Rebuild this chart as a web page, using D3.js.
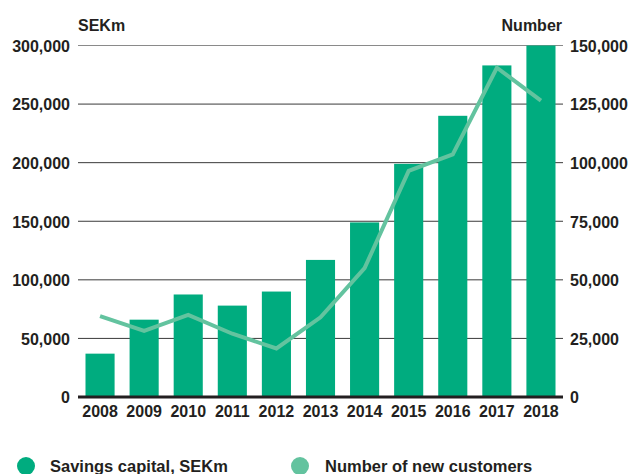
<!DOCTYPE html>
<html><head><meta charset="utf-8">
<script src="https://cdn.jsdelivr.net/npm/d3@7"></script>
<style>body{margin:0;background:#fff}text{font-family:"Liberation Sans",Arial,sans-serif;font-weight:bold;fill:#231f20}</style>
</head><body><svg id="c" width="629" height="474"></svg>
<script>
const years = ["2008","2009","2010","2011","2012","2013","2014","2015","2016","2017","2018"];
const savingsCapital = [37000,66000,87500,78000,90000,117000,149000,199000,240000,283000,300000];
const newCustomers = [34500,28200,35000,27000,20700,34000,55000,96500,103500,140500,126500];
const leftTicks = [0,50000,100000,150000,200000,250000,300000];
const rightTicks = [0,25000,50000,75000,100000,125000,150000];
const legendLabels = ["Savings capital, SEKm","Number of new customers"];

const svg = d3.select("#c");
const x0 = 78, x1 = 563, yTop = 45.5, yBase = 397;
const x = d3.scaleBand().domain(years).range([x0, x1]).paddingInner(0.34).paddingOuter(0.17);
const yL = d3.scaleLinear().domain([0,300000]).range([yBase, yTop]);
const yR = d3.scaleLinear().domain([0,150000]).range([yBase, yTop]);
const fmt = d3.format(",");
const barColor = "#00ac7f", lineColor = "#63c39f";
const fs = 16;

// gridlines
svg.append("g").selectAll("line").data(leftTicks.filter(d=>d>0)).join("line")
  .attr("x1", 78).attr("x2", 563)
  .attr("y1", d=>yL(d)).attr("y2", d=>yL(d))
  .attr("stroke", d=> d===300000 ? "#8a8a8a" : "#3a3a3a").attr("stroke-width", 1);

// left axis labels
const gl = svg.append("g").attr("transform","translate(70,0)")
  .call(d3.axisLeft(yL).tickValues(leftTicks).tickFormat(fmt).tickSize(0).tickPadding(0));
gl.select(".domain").remove();
gl.selectAll("text").attr("font-size",fs).attr("font-family","Liberation Sans").attr("font-weight","bold").attr("fill","#231f20").attr("dy","0.36em");

const gr = svg.append("g").attr("transform","translate(570,0)")
  .call(d3.axisRight(yR).tickValues(rightTicks).tickFormat(fmt).tickSize(0).tickPadding(0));
gr.select(".domain").remove();
gr.selectAll("text").attr("font-size",fs).attr("font-family","Liberation Sans").attr("font-weight","bold").attr("fill","#231f20").attr("dy","0.36em");

// bars
svg.append("g").selectAll("rect").data(years).join("rect")
  .attr("x", d=>x(d)).attr("width", x.bandwidth())
  .attr("y", (d,i)=>yL(savingsCapital[i])).attr("height", (d,i)=>yBase - yL(savingsCapital[i]))
  .attr("fill", barColor);

// baseline
svg.append("line").attr("x1",78).attr("x2",563).attr("y1",yBase).attr("y2",yBase)
  .attr("stroke","#231f20").attr("stroke-width",3);

// line
const line = d3.line().x((d,i)=>x(years[i]) + x.bandwidth()/2).y(d=>yR(d));
svg.append("path").datum(newCustomers).attr("d", line)
  .attr("fill","none").attr("stroke",lineColor).attr("stroke-width",4).attr("stroke-linejoin","miter");

// x labels
const gx = svg.append("g").attr("transform",`translate(0,${yBase})`)
  .call(d3.axisBottom(x).tickSize(0).tickPadding(9));
gx.select(".domain").remove();
gx.selectAll("text").attr("font-size",fs).attr("font-family","Liberation Sans").attr("font-weight","bold").attr("fill","#231f20");

// unit titles
svg.append("text").attr("x",78).attr("y",31).attr("font-size",fs).text("SEKm");
svg.append("text").attr("x",562).attr("y",31).attr("font-size",fs).attr("text-anchor","end").text("Number");

// legend
const lg = svg.append("g");
const lx = [26, 300], tx = [50, 325];
legendLabels.forEach((l,i)=>{
  lg.append("circle").attr("cx",lx[i]).attr("cy",466).attr("r",9).attr("fill", i===0?barColor:lineColor);
  lg.append("text").attr("x",tx[i]).attr("y",472).attr("font-size",16.5).text(l);
});
</script></body></html>
